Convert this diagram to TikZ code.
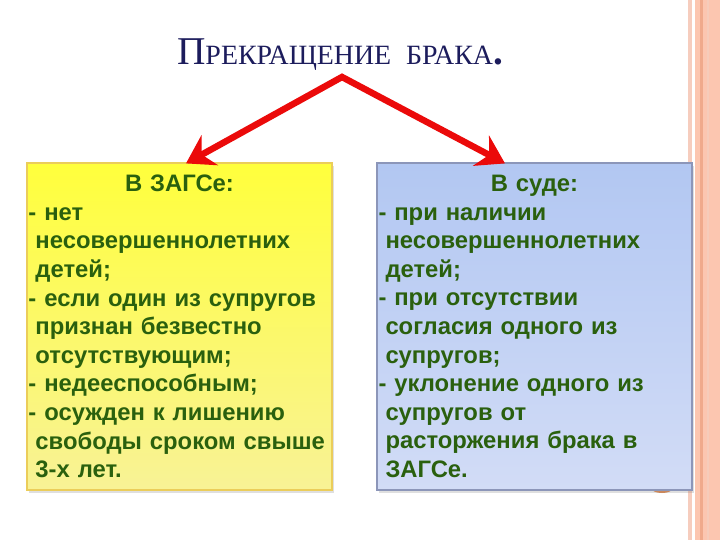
\documentclass[tikz,border=0pt]{standalone}
\usepackage{fontspec}
\setmainfont{Liberation Sans}
\newfontfamily\titlefont{Liberation Serif}
\usetikzlibrary{arrows.meta,shadows,calc}
\definecolor{txtgreen}{RGB}{42,96,14}
\definecolor{titleblue}{RGB}{28,28,92}
\definecolor{arrowred}{RGB}{235,10,10}
\definecolor{yelbright}{RGB}{255,255,60}
\definecolor{yelpale}{RGB}{248,242,150}
\definecolor{yelborder}{RGB}{235,205,90}
\definecolor{bluetop}{RGB}{178,199,242}
\definecolor{bluebottom}{RGB}{210,220,246}
\definecolor{blueborder}{RGB}{140,150,185}
\definecolor{stripepale}{RGB}{246,205,190}
\definecolor{salmon}{RGB}{252,198,176}
\definecolor{salmondark}{RGB}{240,170,140}
\definecolor{blob}{RGB}{228,140,80}
\tikzset{
  panel/.style={rectangle, minimum width=#1, minimum height=327bp, inner sep=1.5bp,
    text width=#1-3bp, font=\fontsize{23.9}{28.7}\selectfont\bfseries, text=txtgreen,
    shading angle=-45, line width=1.2bp,
    drop shadow={opacity=0.25, shadow xshift=2bp, shadow yshift=-3bp}},
  redarrow/.style={draw=arrowred, line width=6.5bp, line join=miter,
    {Stealth[length=27bp,width=34bp,inset=9bp]}-{Stealth[length=27bp,width=34bp,inset=9bp]}}
}
\newcommand{\ind}{\hspace*{7bp}}
\begin{document}
\begin{tikzpicture}[x=1bp,y=-1bp]
\useasboundingbox (0,0) rectangle (720,540);
\fill[white] (0,0) rectangle (720,540);
% right decorative stripes
\fill[stripepale] (688,0) rectangle (692,540);
\fill[salmon] (695,0) rectangle (720,540);
\fill[salmondark] (700,0) rectangle (703,540);
\fill[salmondark!60] (707,0) rectangle (709,540);
% small orange shape behind right panel
\fill[blob] (662,489) ellipse [x radius=10bp, y radius=4bp];
% title
\node[anchor=base, text=titleblue, inner sep=0] (title) at (340,65)
  {\titlefont{\fontsize{39.5}{39.5}\selectfont П}{\fontsize{28}{28}\selectfont РЕКРАЩЕНИЕ\hspace{8bp} БРАКА}{\fontsize{39.5}{39.5}\selectfont\bfseries .}};
% panels
\node[panel=305bp, top color=yelbright, bottom color=yelpale, draw=yelborder] (zags) at (179.5,326.5)
  {{\centering В ЗАГСе:\par}
   \raggedright
   - нет\\
   \ind несовершеннолетних\\
   \ind детей;\\
   - если один из супругов\\
   \ind признан безвестно\\
   \ind отсутствующим;\\
   - недееспособным;\\
   - осужден к лишению\\
   \ind свободы сроком свыше\\
   \ind 3-х лет.};
\node[panel=315bp, top color=bluetop, bottom color=bluebottom, draw=blueborder] (court) at (534.5,326.5)
  {{\centering В суде:\par}
   \raggedright
   - при наличии\\
   \ind несовершеннолетних\\
   \ind детей;\\
   - при отсутствии\\
   \ind согласия одного из\\
   \ind супругов;\\
   - уклонение одного из\\
   \ind супругов от\\
   \ind расторжения брака в\\
   \ind ЗАГСе.};
% arrows
\coordinate (apex) at (342,77);
\draw[redarrow] ([xshift=6.5bp,yshift=-1bp]zags.north) -- (apex) -- ([xshift=-29.5bp,yshift=-1bp]court.north);
\end{tikzpicture}
\end{document}
